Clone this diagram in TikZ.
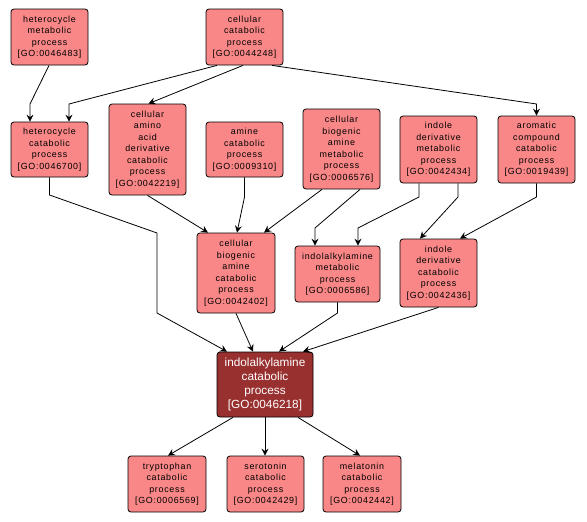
\documentclass[tikz,border=0pt]{standalone}
\usepackage{fontspec}
\setmainfont{Liberation Sans}
\newfontfamily\boxfont[LetterSpace=8]{Liberation Sans}
\usetikzlibrary{arrows.meta}
\definecolor{salmon}{RGB}{250,135,135}
\definecolor{darkred}{RGB}{153,48,48}
\tikzset{
  gobox/.style={draw=black, line width=0.8pt, fill=salmon, rounded corners=3pt, inner sep=0pt, align=center,
    font=\boxfont\fontsize{8.9}{11.5}\selectfont},
  mainbox/.style={draw=black, line width=0.8pt, fill=darkred, rounded corners=3pt, inner sep=0pt, align=center,
    text=white, font=\fontsize{11.8}{14}\selectfont},
  arr/.style={draw=black, line width=0.8pt, -{Stealth[length=7pt,width=7pt,inset=2.5pt]}},
}
\begin{document}
\begin{tikzpicture}[x=1pt,y=-1pt]
\useasboundingbox (0,0) rectangle (587,522);
\node[gobox, minimum width=77pt, minimum height=56pt] (A) at (49.5,37) {heterocycle\\metabolic\\process\\{}[GO:0046483]};
\node[gobox, minimum width=77pt, minimum height=56pt] (B) at (244.5,37) {cellular\\catabolic\\process\\{}[GO:0044248]};
\node[gobox, minimum width=77pt, minimum height=55pt] (C) at (49.5,149.5) {heterocycle\\catabolic\\process\\{}[GO:0046700]};
\node[gobox, minimum width=77pt, minimum height=91pt] (D) at (147.5,149.5) {cellular\\amino\\acid\\derivative\\catabolic\\process\\{}[GO:0042219]};
\node[gobox, minimum width=77pt, minimum height=55pt] (E) at (244.5,149.5) {amine\\catabolic\\process\\{}[GO:0009310]};
\node[gobox, minimum width=77pt, minimum height=80pt] (F) at (341.5,149) {cellular\\biogenic\\amine\\metabolic\\process\\{}[GO:0006576]};
\node[gobox, minimum width=77pt, minimum height=67pt] (G) at (438.5,149.5) {indole\\derivative\\metabolic\\process\\{}[GO:0042434]};
\node[gobox, minimum width=77pt, minimum height=67pt] (H) at (536.5,149.5) {aromatic\\compound\\catabolic\\process\\{}[GO:0019439]};
\node[gobox, minimum width=78pt, minimum height=80pt] (I) at (236,273) {cellular\\biogenic\\amine\\catabolic\\process\\{}[GO:0042402]};
\node[gobox, minimum width=85pt, minimum height=56pt] (J) at (337.5,274) {indolalkylamine\\metabolic\\process\\{}[GO:0006586]};
\node[gobox, minimum width=77pt, minimum height=68pt] (K) at (438.5,273) {indole\\derivative\\catabolic\\process\\{}[GO:0042436]};
\node[mainbox, minimum width=96pt, minimum height=65pt] (L) at (265,384.5) {indolalkylamine\\catabolic\\process\\{}[GO:0046218]};
\node[gobox, minimum width=78pt, minimum height=56pt] (M) at (167,484) {tryptophan\\catabolic\\process\\{}[GO:0006569]};
\node[gobox, minimum width=77pt, minimum height=56pt] (N) at (265.5,484) {serotonin\\catabolic\\process\\{}[GO:0042429]};
\node[gobox, minimum width=78pt, minimum height=56pt] (O) at (362,484) {melatonin\\catabolic\\process\\{}[GO:0042442]};
% edges
\draw[arr] ([xshift=-0.5pt]A.south) -- (30,104) -- ([xshift=-19.5pt]C.north);
\draw[arr] ([xshift=-27.5pt]B.south) -- (69,104) -- ([xshift=19.5pt]C.north);
\draw[arr] ([xshift=-1.5pt]B.south) -- ([xshift=1pt]D.north);
\draw[arr] ([xshift=27.5pt]B.south) -- (536.5,104) -- (H.north);
\draw[arr] (C.south) -- (49.5,195) -- (157,233) -- (157,313) -- ([xshift=-38pt]L.north);
\draw[arr] (D.south) -- ([xshift=-28pt]I.north);
\draw[arr] (E.south) -- (244.5,197) -- ([xshift=1pt]I.north);
\draw[arr] ([xshift=-19.5pt]F.south) -- ([xshift=28pt]I.north);
\draw[arr] ([xshift=18.5pt]F.south) -- (315,228) -- ([xshift=-22.5pt]J.north);
\draw[arr] ([xshift=-19.5pt]G.south) -- (419,197) -- (358,228) -- ([xshift=20.5pt]J.north);
\draw[arr] ([xshift=19.5pt]G.south) -- (458,197) -- ([xshift=-18.5pt]K.north);
\draw[arr] (H.south) -- (536.5,197) -- ([xshift=21.5pt]K.north);
\draw[arr] (I.south) -- ([xshift=-12pt]L.north);
\draw[arr] (J.south) -- (337.5,313) -- ([xshift=14pt]L.north);
\draw[arr] (K.south) -- ([xshift=38pt]L.north);
\draw[arr] ([xshift=-32pt]L.south) -- ([xshift=1pt]M.north);
\draw[arr] (L.south) -- ([xshift=-0.5pt]N.north);
\draw[arr] ([xshift=33pt]L.south) -- ([xshift=-2pt]O.north);
\end{tikzpicture}
\end{document}
